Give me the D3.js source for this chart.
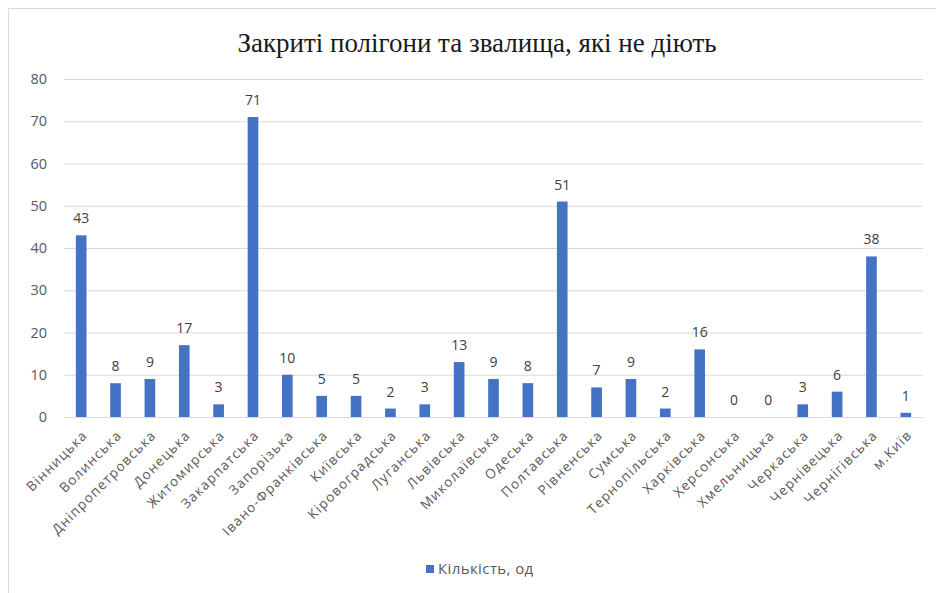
<!DOCTYPE html>
<html>
<head>
<meta charset="utf-8">
<script src="https://cdn.jsdelivr.net/npm/d3@7"></script>
<style>
  html, body { margin: 0; padding: 0; background: #fff; }
  svg { display: block; }
</style>
</head>
<body>
<script>
// Closed, inactive landfills and dumps by region
const regions = ["Вінницька", "Волинська", "Дніпропетровська", "Донецька", "Житомирська",
  "Закарпатська", "Запорізька", "Івано-Франківська", "Київська", "Кіровоградська",
  "Луганська", "Львівська", "Миколаївська", "Одеська", "Полтавська", "Рівненська",
  "Сумська", "Тернопільська", "Харківська", "Херсонська", "Хмельницька", "Черкаська",
  "Чернівецька", "Чернігівська", "м.Київ"];
const counts = [43, 8, 9, 17, 3, 71, 10, 5, 5, 2, 3, 13, 9, 8, 51, 7, 9, 2, 16, 0, 0, 3, 6, 38, 1];
const yTicks = [0, 10, 20, 30, 40, 50, 60, 70, 80];
const seriesName = "Кількість, од";
const chartTitle = "Закриті полігони та звалища, які не діють";

const W = 936, H = 593;
const margin = { left: 64, right: 13, top: 79, bottom: 176 };
const barColor = "#4472c4";
const gridColor = "#dcd9d6";
const labelFont = "'Open Sans', 'Noto Sans', sans-serif";

const svg = d3.select("body").append("svg").attr("width", W).attr("height", H);

// chart frame
svg.append("path")
  .attr("d", `M8.5,${H} L8.5,8.5 L${W},8.5`)
  .attr("fill", "none").attr("stroke", "#d9d9d9").attr("stroke-width", 1);

const x = d3.scaleBand().domain(regions).range([margin.left, W - margin.right]).paddingInner(0.69).paddingOuter(0.345);
const y = d3.scaleLinear().domain([0, 80]).range([H - margin.bottom, margin.top]);

// title
svg.append("text")
  .attr("x", 477).attr("y", 52)
  .attr("text-anchor", "middle")
  .attr("font-family", "'Liberation Serif', 'DejaVu Serif', serif")
  .attr("font-size", 27)
  .attr("fill", "#1a1a1a")
  .text(chartTitle);

// horizontal gridlines + y labels
const yAxis = d3.axisLeft(y).tickValues(yTicks).tickSize(-(W - margin.right - margin.left)).tickPadding(17);
const gy = svg.append("g").attr("transform", `translate(${margin.left},0)`).call(yAxis);
gy.select(".domain").remove();
gy.selectAll(".tick line").attr("stroke", gridColor).attr("stroke-width", 1.2);
gy.selectAll(".tick text")
  .attr("font-family", labelFont).attr("font-size", 14.5).attr("fill", "#595959");

// category labels
const xAxis = d3.axisBottom(x).tickSize(0).tickPadding(0);
const gx = svg.append("g").attr("transform", `translate(0,${y(0)})`).call(xAxis);
gx.select(".domain").remove();
gx.selectAll(".tick text")
  .attr("font-family", labelFont).attr("font-size", 13.5).attr("fill", "#595959")
  .attr("letter-spacing", 1.2)
  .attr("text-anchor", "end")
  .attr("dy", 0)
  .attr("transform", "translate(7,19) rotate(-45)");

// bars
svg.append("g").selectAll("rect").data(counts).join("rect")
  .attr("x", (d, i) => x(regions[i]))
  .attr("width", x.bandwidth())
  .attr("y", d => y(d))
  .attr("height", d => y(0) - y(d))
  .attr("fill", barColor);

// value labels
svg.append("g").selectAll("text").data(counts).join("text")
  .attr("x", (d, i) => x(regions[i]) + x.bandwidth() / 2)
  .attr("y", d => y(d) - 12)
  .attr("text-anchor", "middle")
  .attr("font-family", labelFont).attr("font-size", 14).attr("fill", "#404040")
  .text(d => d);

// legend
const lg = svg.append("g").attr("transform", "translate(426,565)");
lg.append("rect").attr("width", 8).attr("height", 8).attr("fill", barColor);
lg.append("text").attr("x", 12).attr("y", 8.5)
  .attr("font-family", labelFont).attr("font-size", 15).attr("fill", "#595959")
  .attr("letter-spacing", 0.4)
  .text(seriesName);
</script>
</body>
</html>
